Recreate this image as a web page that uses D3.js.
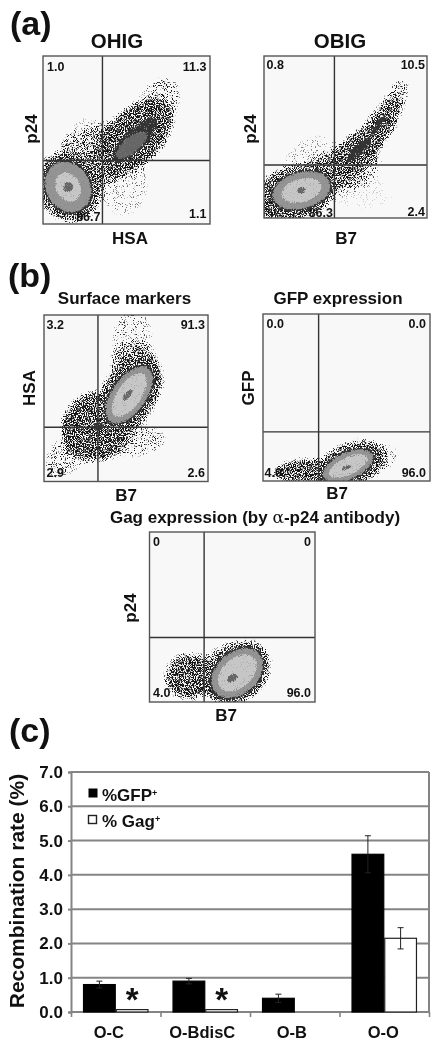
<!DOCTYPE html>
<html>
<head>
<meta charset="utf-8">
<script src="https://cdnjs.cloudflare.com/ajax/libs/d3/7.8.5/d3.min.js"></script>
<style>
  html, body { margin: 0; background: #fff; }
  svg { display: block; filter: blur(0.4px); }
  text { font-family: "Liberation Sans", Arial, sans-serif; font-weight: bold; fill: #111; }
</style>
</head>
<body>
<svg id="fig" width="435" height="1050"></svg>
<script>
// flow panels: channel units 0-100 on both axes
// gate = [x, y], quadrants = [top left, top right, bottom left, bottom right]
const ohigGate = [35.6, 37.8];
const ohigQuadrants = ['1.0', '11.3', '86.7', '1.1'];
const obigGate = [43.2, 32.7];
const obigQuadrants = ['0.8', '10.5', '86.3', '2.4'];
const surfaceGate = [32.9, 32.6];
const surfaceQuadrants = ['3.2', '91.3', '2.9', '2.6'];
const gfpGate = [33.3, 29.4];
const gfpQuadrants = ['0.0', '0.0', '4.0', '96.0'];
const gagGate = [33, 37.9];
const gagQuadrants = ['0', '0', '4.0', '96.0'];

// cell populations: [cx, cy, rx, ry, tilt, density]
// density up to 1 = loose dots, 1.5-4 = contour levels going inwards
const ohigCloud = [
  [38, 36, 18, 12, 20, 0.8], [48, 24, 16, 20, 0, 0.45], [36, 50, 28, 10, 10, 0.62],
  [28, 46, 16, 20, 0, 0.36], [70, 74, 15, 12, 55, 0.58], [55, 52, 29, 17, 45, 1],
  [15, 22, 19, 22, 30, 1],
  [15, 22, 15, 17.5, 30, 1.5], [15, 22, 13.5, 16, 30, 2], [15, 22, 7.5, 9.5, 30, 3], [15, 22, 3.5, 3.2, 30, 4],
  [55, 50, 19, 7, 45, 1.5], [53, 47, 12, 5, 40, 1.8]
];
const obigCloud = [
  [42, 29, 20, 12, 15, 0.8], [30, 35, 20, 16, 30, 0.42], [52, 28, 22, 11, 20, 0.62], [60, 15, 22, 12, 0, 0.33],
  [58, 42, 20, 11, 40, 1], [70, 55, 22, 9, 55, 1], [80, 72, 15, 7, 65, 0.7],
  [18, 15, 27, 17, 15, 1],
  [58, 42, 11, 4, 45, 1.5], [70, 57, 9, 2.5, 55, 1.5],
  [23, 17, 20, 13, 15, 1.5], [23, 17, 18.5, 11.5, 15, 2], [23, 17, 13, 7.5, 15, 3], [23, 17, 3, 2.5, 15, 4]
];
const surfaceCloud = [
  [32, 33, 23, 21, 45, 1], [14, 16, 17, 11, 45, 0.58], [54, 85, 13, 21, 0, 0.52],
  [55, 70, 15, 14, 0, 0.72], [50, 25, 25, 11, 0, 0.58], [52, 52, 27, 17, 55, 1],
  [33, 33, 4, 3, 0, 1.5],
  [52, 52, 22, 12, 55, 1.5], [52, 52, 20.5, 10.5, 55, 2], [52, 52, 16, 7.5, 55, 3], [51, 52, 5, 2, 50, 4]
];
const gfpCloud = [
  [25, 6, 19, 8, 5, 1], [72, 14, 10, 8, 20, 0.52], [52, 9, 23, 14, 25, 1],
  [51, 9, 18, 9.5, 25, 1.5], [51, 9, 16.5, 8.3, 25, 2], [51, 9, 13, 5.5, 25, 3], [50, 8, 4, 1.5, 20, 4]
];
const gagCloud = [
  [24, 15, 15, 14, 15, 1], [45, 26, 17, 8, 20, 0.58], [53, 17, 23, 17, 42, 1],
  [53, 17, 19.5, 14, 42, 1.5], [53, 17, 18, 12.5, 42, 2], [53, 17, 14, 9, 42, 3], [50, 14, 4, 2.5, 30, 4]
];

// bar chart
const categories = ['O-C', 'O-BdisC', 'O-B', 'O-O'];
const gfpValues = [0.8, 0.9, 0.4, 4.6];
const gfpErrors = [0.1, 0.08, 0.12, 0.54];
const gagValues = [0.07, 0.07, null, 2.15];
const gagErrors = [0, 0, 0, 0.31];
const significant = ['O-C', 'O-BdisC'];
const yTicks = [0, 1, 2, 3, 4, 5, 6, 7];

let svg = d3.select('#fig');
let shade = d3.scaleThreshold().domain([1.7, 2, 3, 4]).range(['#333', '#666', '#949494', '#c6c6c6', '#666']);

// grain + blurred shape, k = arithmetic weights [soft*grain, soft, grain, offset]
function add_filter(defs, id, color, blur, k, slope) {
    let f = defs.append('filter').attr('id', id)
        .attr('filterUnits', 'userSpaceOnUse')
        .attr('x', 0).attr('y', 0).attr('width', 435).attr('height', 1050)
        .attr('color-interpolation-filters', 'sRGB');
    f.append('feGaussianBlur').attr('in', 'SourceAlpha').attr('stdDeviation', blur).attr('result', 'soft');
    f.append('feTurbulence').attr('type', 'fractalNoise').attr('baseFrequency', 0.9)
        .attr('numOctaves', 2).attr('seed', 4).attr('result', 'turb');
    f.append('feColorMatrix').attr('in', 'turb').attr('type', 'matrix')
        .attr('values', '0 0 0 0 0  0 0 0 0 0  0 0 0 0 0  2.6 0 0 0 -0.8').attr('result', 'grain');
    f.append('feComposite').attr('in', 'soft').attr('in2', 'grain').attr('operator', 'arithmetic')
        .attr('k1', k[0]).attr('k2', k[1]).attr('k3', k[2]).attr('k4', k[3]).attr('result', 'sum');
    let alpha = f.append('feComponentTransfer').attr('in', 'sum').attr('result', 'dots');
    alpha.append('feFuncA').attr('type', 'linear').attr('slope', slope).attr('intercept', 0);
    f.append('feFlood').attr('flood-color', color);
    f.append('feComposite').attr('in2', 'dots').attr('operator', 'in');
    f.append('feGaussianBlur').attr('stdDeviation', 0.25);
}

function add_filters() {
    let defs = svg.append('defs');
    // loose dots get thinner where the blurred shape fades out
    add_filter(defs, 'speck', '#151515', 3, [0, 1, 1, -1.27], 3.5);
    // contour levels dissolve into the dots at their edge
    shade.range().forEach((c, i) => add_filter(defs, 'level' + i, c, 1.6, [1, 1, 0, -0.85], 4));
}

// ---- one flow panel
function draw_flow(p) {
    let x = d3.scaleLinear().domain([0, 100]).range([p.box[0], p.box[2]]);
    let y = d3.scaleLinear().domain([0, 100]).range([p.box[3], p.box[1]]);
    let g = svg.append('g');
    let sx = (p.box[2] - p.box[0]) / 100;
    let sy = (p.box[3] - p.box[1]) / 100;
    // core of level 4 shares its colour with level 1.8, so look it up by threshold position
    let levelOf = v => d3.bisectRight(shade.domain(), v);

    g.append('rect')
        .attr('x', p.box[0]).attr('y', p.box[1])
        .attr('width', p.box[2] - p.box[0]).attr('height', p.box[3] - p.box[1])
        .attr('fill', '#f8f8f8');

    let clipId = 'clip-' + p.id;
    svg.select('defs').append('clipPath').attr('id', clipId)
        .append('rect')
        .attr('x', p.box[0]).attr('y', p.box[1])
        .attr('width', p.box[2] - p.box[0]).attr('height', p.box[3] - p.box[1]);

    let inner = g.append('g').attr('clip-path', `url(#${clipId})`);
    let ell = sel => sel
        .attr('cx', d => x(d[0])).attr('cy', d => y(d[1]))
        .attr('rx', d => d[2] * sx).attr('ry', d => d[3] * sy)
        .attr('transform', d => `rotate(${-d[4]} ${x(d[0])} ${y(d[1])})`);

    inner.append('g').attr('filter', 'url(#speck)')
        .selectAll('ellipse')
        .data(p.cloud.filter(d => d[5] <= 1))
        .join('ellipse')
        .call(ell)
        .attr('fill', '#000')
        .attr('fill-opacity', d => d[5]);

    inner.append('g').selectAll('g')
        .data(p.cloud.filter(d => d[5] > 1))
        .join('g')
        .attr('filter', d => `url(#level${levelOf(d[5])})`)
        .append('ellipse')
        .call(ell)
        .attr('fill', '#000');

    // gate lines and frame
    g.append('line').attr('x1', x(p.gate[0])).attr('x2', x(p.gate[0]))
        .attr('y1', p.box[1]).attr('y2', p.box[3]).attr('stroke', '#333').attr('stroke-width', 1.4);
    g.append('line').attr('x1', p.box[0]).attr('x2', p.box[2])
        .attr('y1', y(p.gate[1])).attr('y2', y(p.gate[1])).attr('stroke', '#333').attr('stroke-width', 1.4);
    g.append('rect')
        .attr('x', p.box[0]).attr('y', p.box[1])
        .attr('width', p.box[2] - p.box[0]).attr('height', p.box[3] - p.box[1])
        .attr('fill', 'none').attr('stroke', '#555').attr('stroke-width', 1.4);

    // quadrant percentages
    p.quadrants.forEach((q, i) => {
        g.append('text').attr('x', p.labelX[i]).attr('y', p.labelY[i])
            .attr('text-anchor', p.labelAnchor[i])
            .style('font-size', '12.5px').text(q);
    });

    // axis names
    g.append('text').attr('x', p.xName[0]).attr('y', p.xName[1]).attr('text-anchor', 'middle')
        .style('font-size', '17px').text(p.xLabel);
    g.append('text').attr('transform', `translate(${p.yName[0]},${p.yName[1]}) rotate(-90)`)
        .attr('text-anchor', 'middle')
        .style('font-size', '17px').text(p.yLabel);

    // title
    let title = g.append('text').attr('x', p.title[0]).attr('y', p.title[1]).attr('text-anchor', 'middle')
        .style('font-size', p.title[2]);
    p.titleText.forEach(t => {
        if (t === 'α') {
            title.append('tspan').style('font-family', '"DejaVu Serif"').style('font-weight', 'normal').text(t);
        } else {
            title.append('tspan').text(t);
        }
    });
}

// ---- bar chart (c)
function draw_bars() {
    let left = 71, right = 429, top = 772, bottom = 1012;
    let y = d3.scaleLinear().domain([0, 7]).range([bottom, top]);
    let band = d3.scaleBand().domain(categories).range([left, right]).paddingInner(0.28).paddingOuter(0.14);
    let inner = d3.scaleBand().domain(['gfp', 'gag']).range([0, band.bandwidth()]).paddingInner(0.03);
    let edge = d3.scaleLinear().domain([0, categories.length]).range([left, right]);
    let labelShift = [-7, -3, -3, -1];
    let gridColor = '#848484';
    let g = svg.append('g');

    let yAxis = g.append('g').attr('transform', `translate(${left},0)`)
        .call(d3.axisLeft(y).tickValues(yTicks).tickFormat(d3.format('.1f')).tickSize(3).tickPadding(5));
    yAxis.select('.domain').attr('stroke', gridColor).attr('stroke-width', 2);
    yAxis.selectAll('line').attr('stroke', gridColor).attr('stroke-width', 2);
    yAxis.selectAll('text').style('font-size', '17px').style('font-family', '"Liberation Sans"').attr('fill', '#111');

    g.append('g').selectAll('line').data(yTicks).join('line')
        .attr('x1', left).attr('x2', right)
        .attr('y1', d => y(d)).attr('y2', d => y(d))
        .attr('stroke', gridColor).attr('stroke-width', 2);
    g.append('line').attr('x1', right).attr('x2', right).attr('y1', top).attr('y2', bottom)
        .attr('stroke', gridColor).attr('stroke-width', 2);

    let edges = g.append('g').attr('transform', `translate(0,${bottom})`)
        .call(d3.axisBottom(edge).ticks(categories.length).tickFormat('').tickSize(5));
    edges.select('.domain').remove();
    edges.selectAll('line').attr('stroke', gridColor).attr('stroke-width', 1.6);

    let names = g.append('g').attr('transform', `translate(0,${bottom})`)
        .call(d3.axisBottom(band).tickSize(0).tickPadding(14));
    names.select('.domain').remove();
    names.selectAll('text').style('font-size', '16.5px').style('font-family', '"Liberation Sans"').attr('fill', '#111')
        .attr('dx', (d, i) => labelShift[i]);

    let groups = g.append('g').selectAll('g').data(categories).join('g')
        .attr('transform', d => `translate(${band(d)},0)`);

    let series = [
        { key: 'gfp', values: gfpValues, errors: gfpErrors, fill: '#000', stroke: '#000' },
        { key: 'gag', values: gagValues, errors: gagErrors, fill: '#fff', stroke: '#222' }
    ];
    series.forEach(s => {
        groups.filter((d, i) => s.values[i] !== null).each(function (d) {
            let i = categories.indexOf(d);
            let v = s.values[i], e = s.errors[i];
            let cx = inner(s.key) + inner.bandwidth() / 2;
            let g0 = d3.select(this);
            g0.append('rect')
                .attr('x', inner(s.key)).attr('width', inner.bandwidth())
                .attr('y', y(v)).attr('height', y(0) - y(v))
                .attr('fill', s.fill).attr('stroke', s.stroke).attr('stroke-width', 1.2);
            if (e > 0) {
                g0.append('path')
                    .attr('d', `M${cx},${y(v - e)}V${y(v + e)}M${cx - 3},${y(v + e)}H${cx + 3}M${cx - 3},${y(v - e)}H${cx + 3}`)
                    .attr('fill', 'none').attr('stroke', '#222').attr('stroke-width', 1);
            }
        });
    });

    // asterisks over the Gag bars
    g.append('g').selectAll('text').data(significant).join('text')
        .attr('x', d => band(d) + inner('gag') + inner.bandwidth() / 2)
        .attr('y', d => y(gagValues[categories.indexOf(d)]) + 1)
        .attr('text-anchor', 'middle')
        .style('font-size', '33px').text('*');

    g.append('text').attr('transform', 'translate(24,891) rotate(-90)').attr('text-anchor', 'middle')
        .style('font-size', '21px').text('Recombination rate (%)');

    // legend
    g.append('rect').attr('x', 89).attr('y', 789).attr('width', 8).attr('height', 8).attr('fill', '#000').attr('stroke', '#000');
    g.append('rect').attr('x', 88.5).attr('y', 815.5).attr('width', 8).attr('height', 8).attr('fill', '#fff').attr('stroke', '#222').attr('stroke-width', 1.4);
    let legendRows = [['%GFP', 801], ['% Gag', 827]];
    legendRows.forEach(r => {
        let t = g.append('text').attr('x', 102).attr('y', r[1]).style('font-size', '17px').text(r[0]);
        t.append('tspan').attr('dy', -5).style('font-size', '9px').text('+');
    });
}

function main() {
    add_filters();
    draw_flow({ id: 'ohig', box: [43, 56, 210, 224], gate: ohigGate, quadrants: ohigQuadrants, cloud: ohigCloud,
        labelX: [47, 206.5, 100.5, 206.5], labelY: [71, 71, 221, 218], labelAnchor: ['start', 'end', 'end', 'end'],
        xLabel: 'HSA', xName: [130, 244], yLabel: 'p24', yName: [37, 129],
        title: [117, 48, '20.5px'], titleText: ['OHIG'] });
    draw_flow({ id: 'obig', box: [264, 56, 427, 218], gate: obigGate, quadrants: obigQuadrants, cloud: obigCloud,
        labelX: [266.5, 425, 333, 425], labelY: [69, 69, 217, 216], labelAnchor: ['start', 'end', 'end', 'end'],
        xLabel: 'B7', xName: [346, 244], yLabel: 'p24', yName: [256, 129],
        title: [340, 48, '20.5px'], titleText: ['OBIG'] });
    draw_flow({ id: 'surface', box: [44, 315, 208, 481.5], gate: surfaceGate, quadrants: surfaceQuadrants, cloud: surfaceCloud,
        labelX: [46.5, 205, 46.5, 205], labelY: [329, 329, 477, 477], labelAnchor: ['start', 'end', 'start', 'end'],
        xLabel: 'B7', xName: [126, 501], yLabel: 'HSA', yName: [35, 388],
        title: [124.5, 304, '17px'], titleText: ['Surface markers'] });
    draw_flow({ id: 'gfp', box: [263, 314, 430, 481], gate: gfpGate, quadrants: gfpQuadrants, cloud: gfpCloud,
        labelX: [266.5, 426, 264.5, 426], labelY: [328, 328, 477, 477], labelAnchor: ['start', 'end', 'start', 'end'],
        xLabel: 'B7', xName: [337, 499], yLabel: 'GFP', yName: [254, 388],
        title: [338, 304, '17px'], titleText: ['GFP expression'] });
    draw_flow({ id: 'gag', box: [149.5, 532, 315, 702], gate: gagGate, quadrants: gagQuadrants, cloud: gagCloud,
        labelX: [153, 311, 153, 311], labelY: [546, 546, 697, 697], labelAnchor: ['start', 'end', 'start', 'end'],
        xLabel: 'B7', xName: [226, 721], yLabel: 'p24', yName: [136, 608],
        title: [255, 523, '17px'], titleText: ['Gag expression (by ', 'α', '-p24 antibody)'] });
    draw_bars();

    let panels = [['(a)', 10, 35], ['(b)', 8, 287], ['(c)', 9, 742]];
    svg.append('g').selectAll('text').data(panels).join('text')
        .attr('x', d => d[1]).attr('y', d => d[2])
        .style('font-size', '34px').text(d => d[0]);
}
main();
</script>
</body>
</html>
